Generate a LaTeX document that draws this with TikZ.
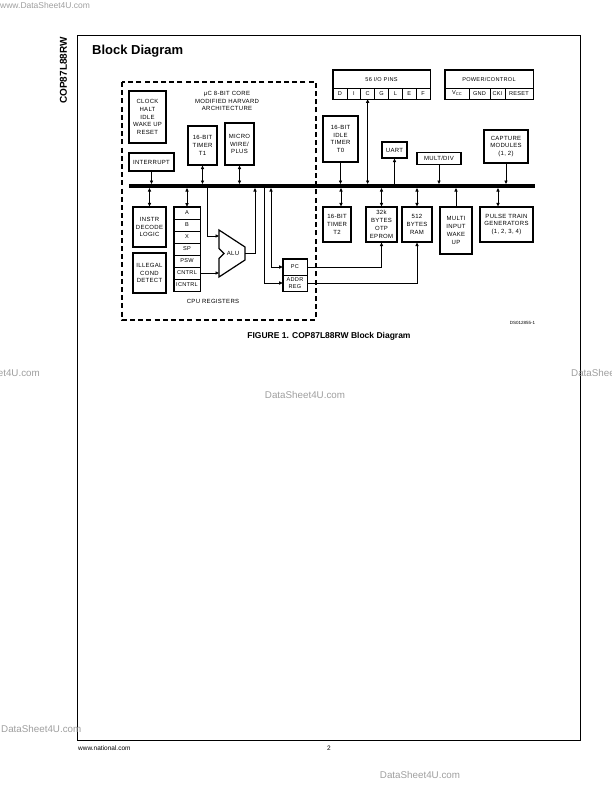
\documentclass[tikz,border=0pt]{standalone}
\usepackage{fontspec}
\setmainfont{Liberation Sans}
\newfontfamily\dgfam[LetterSpace=5]{Liberation Sans}
\usetikzlibrary{arrows.meta,calc}
\newcommand\dgfont{\dgfam\fontsize{6}{7.8}\selectfont}
\newcommand\cellfont{\dgfam\fontsize{5.6}{6.3}\selectfont}
\begin{document}
\begin{tikzpicture}[x=1pt,y=-1pt,
  blk/.style={draw,line width=1.3pt,align=center,inner sep=0pt,font=\dgfont},
  cell/.style={draw,line width=0.6pt,align=center,inner sep=0pt,font=\cellfont},
  lbl/.style={align=center,inner sep=0pt,font=\dgfont},
  con/.style={line width=0.7pt},
  arr/.style={con,-{Triangle[length=3.5pt,width=3.2pt]}},
  darr/.style={con,{Triangle[length=3.5pt,width=3.2pt]}-{Triangle[length=3.5pt,width=3.2pt]}},
  thickframe/.style={line width=1.3pt},
  wm/.style={text=black!38,font=\fontsize{9.8}{11}\selectfont,inner sep=0pt},
]
\useasboundingbox (0,0) rectangle (612,792);

% page frame and page texts
\draw[line width=0.9pt] (77,35) rectangle (580,740);
\node[rotate=90,font=\bfseries\fontsize{10}{12}\selectfont,inner sep=0pt] (side) at (63.5,70.5) {COP87L88RW};
\node[anchor=base west,font=\bfseries\fontsize{13}{15}\selectfont,inner sep=0pt] (title) at (92,55) {Block Diagram};
\node[font=\bfseries\fontsize{8.5}{10}\selectfont,inner sep=0pt] (caption) at (329,336) {FIGURE 1. COP87L88RW Block Diagram};
\node[font=\fontsize{4.5}{5}\selectfont,inner sep=0pt] (ds) at (522.5,323) {DS012855-1};
\node[anchor=west,font=\fontsize{6.5}{8}\selectfont,inner sep=0pt] (www) at (78,748) {www.national.com};
\node[font=\fontsize{6.5}{8}\selectfont,inner sep=0pt] (pg) at (329,748) {2};

% watermarks
\node[wm,anchor=west,font=\fontsize{8.5}{10}\selectfont] (wm0) at (0,5) {www.DataSheet4U.com};
\node[wm,anchor=east] (wm1) at (40,373) {DataSheet4U.com};
\node[wm,anchor=west] (wm2) at (571,373) {DataSheet4U.com};
\node[wm] (wm3) at (305,395) {DataSheet4U.com};
\node[wm,anchor=west] (wm4) at (1,729) {DataSheet4U.com};
\node[wm] (wm5) at (420,775) {DataSheet4U.com};

% dashed core frame
\draw[line width=1.3pt,dash pattern=on 5pt off 3.2pt] (122,82) rectangle (316,320);
\node[lbl] (core) at (227,101) {μC 8-BIT CORE\\MODIFIED HARVARD\\ARCHITECTURE};

% core blocks
\node[blk,minimum width=37pt,minimum height=52pt] (clk) at (147.5,117) {CLOCK\\HALT\\IDLE\\WAKE UP\\RESET};
\node[blk,minimum width=29pt,minimum height=39pt] (t1) at (202.5,145.5) {16-BIT\\TIMER\\T1};
\node[blk,minimum width=29pt,minimum height=42pt] (mw) at (239.5,144) {MICRO\\WIRE/\\PLUS};
\node[blk,minimum width=45pt,minimum height=18pt] (int) at (151.5,162) {INTERRUPT};
\node[blk,minimum width=33pt,minimum height=40pt] (instr) at (149.5,227) {INSTR\\DECODE\\LOGIC};
\node[blk,minimum width=33pt,minimum height=40pt] (illg) at (149.5,273) {ILLEGAL\\COND\\DETECT};

% register stack
\foreach \t [count=\i from 0] in {A,B,X,SP,PSW,CNTRL,ICNTRL}
  \node[cell,minimum width=26pt,minimum height=12pt] (r\i) at (187,213+12*\i) {\t};
\draw[thickframe] (r0.north west) rectangle (r6.south east);
\node[lbl] (cpur) at (213,301) {CPU REGISTERS};

% ALU
\draw[line width=1.2pt,line join=miter] (219,230) -- (245,247) -- (245,260) -- (219,277) -- (219,258.5) -- (224,253.5) -- (219,248.5) -- cycle;
\node[lbl] (alu) at (233,253.5) {ALU};
\coordinate (aluA) at (219,236);
\coordinate (aluB) at (219,273);
\coordinate (aluO) at (245,253.5);

% PC / ADDR REG
\node[cell,minimum width=24pt,minimum height=16pt] (pc) at (295,267) {PC};
\node[cell,minimum width=24pt,minimum height=16pt] (addr) at (295,283) {ADDR\\REG};
\draw[thickframe] (pc.north west) rectangle (addr.south east);

% I/O pins
\node[cell,minimum width=97pt,minimum height=18pt] (io) at (381.5,79) {56 I/O PINS};
\foreach \t [count=\i from 0] in {D,I,C,G,L,E,F}
  \node[cell,minimum width=13.857pt,minimum height=11pt] (io\t) at ({333+13.857*(\i+0.5)},93.5) {\t};
\draw[thickframe] (io.north west) rectangle (ioF.south east);

% power / control
\node[cell,minimum width=88pt,minimum height=18pt] (pw) at (489,79) {POWER/CONTROL};
\node[cell,minimum width=24pt,minimum height=11pt] (vcc) at (457,93.5) {V\raisebox{-1pt}{\fontsize{4}{4}\selectfont CC}};
\node[cell,minimum width=21pt,minimum height=11pt] (gnd) at (479.5,93.5) {GND};
\node[cell,minimum width=15pt,minimum height=11pt] (cki) at (497.5,93.5) {CKI};
\node[cell,minimum width=28pt,minimum height=11pt] (rst) at (519,93.5) {RESET};
\draw[thickframe] (pw.north west) rectangle (rst.south east);

% peripheral blocks
\node[blk,minimum width=35pt,minimum height=46pt] (t0) at (340.5,139) {16-BIT\\IDLE\\TIMER\\T0};
\node[blk,minimum width=25pt,minimum height=16pt] (uart) at (394.5,150) {UART};
\node[blk,minimum width=44pt,minimum height=12pt] (md) at (439,158.5) {MULT/DIV};
\node[blk,minimum width=44pt,minimum height=33pt] (cap) at (506,146.5) {CAPTURE\\MODULES\\(1, 2)};
\node[blk,minimum width=28pt,minimum height=35pt] (t2) at (337,224.5) {16-BIT\\TIMER\\T2};
\node[blk,minimum width=31pt,minimum height=35pt] (ep) at (381.5,224.5) {32k\\BYTES\\OTP\\EPROM};
\node[blk,minimum width=30pt,minimum height=35pt] (ram) at (417,224.5) {512\\BYTES\\RAM};
\node[blk,minimum width=32pt,minimum height=47pt] (mi) at (456,230.5) {MULTI\\INPUT\\WAKE\\UP};
\node[blk,minimum width=53pt,minimum height=35pt] (pt) at (506.5,224.5) {PULSE TRAIN\\GENERATORS\\(1, 2, 3, 4)};

% bus
\coordinate (busL) at (129,186);
\coordinate (busR) at (535,186);
\coordinate (busT) at (0,184);
\coordinate (busB) at (0,188);
\draw[line width=4pt] (busL) -- (busR);

% connectors above the bus
\draw[arr] (int.south) -- (int.south |- busT);
\draw[darr] (t1.south) -- (t1.south |- busT);
\draw[darr] (mw.south) -- (mw.south |- busT);
\draw[arr] (t0.south) -- (t0.south |- busT);
\draw[darr] (ioC.south) -- (ioC.south |- busT);
\draw[arr] (uart.south |- busT) -- (uart.south);
\draw[arr] (md.south) -- (md.south |- busT);
\draw[arr] (cap.south) -- (cap.south |- busT);

% connectors below the bus
\draw[darr] (instr.north |- busB) -- (instr.north);
\draw[darr] (r0.north |- busB) -- (r0.north);
\coordinate (j1) at (207,188);
\draw[arr] (j1) |- (aluA);
\draw[arr] (r5.east) -- (aluB);
\coordinate (j2) at (255,188);
\draw[arr] (aluO) -| (j2);
\coordinate (j3) at (264,188);
\draw[arr] (j3) |- (addr.west);
\coordinate (j4) at (271,188);
\draw[darr] (j4) |- (pc.west);
\draw[arr] (pc.east) -| (ep.south);
\draw[arr] (addr.east) -| (ram.south);
\coordinate (t2a) at ($(t2.north)+(4,0)$);
\draw[darr] (t2a |- busB) -- (t2a);
\draw[darr] (ep.north |- busB) -- (ep.north);
\draw[darr] (ram.north |- busB) -- (ram.north);
\draw[arr] (mi.north) -- (mi.north |- busB);
\coordinate (pta) at ($(pt.north)+(-8.5,0)$);
\draw[darr] (pta |- busB) -- (pta);
\end{tikzpicture}
\end{document}
